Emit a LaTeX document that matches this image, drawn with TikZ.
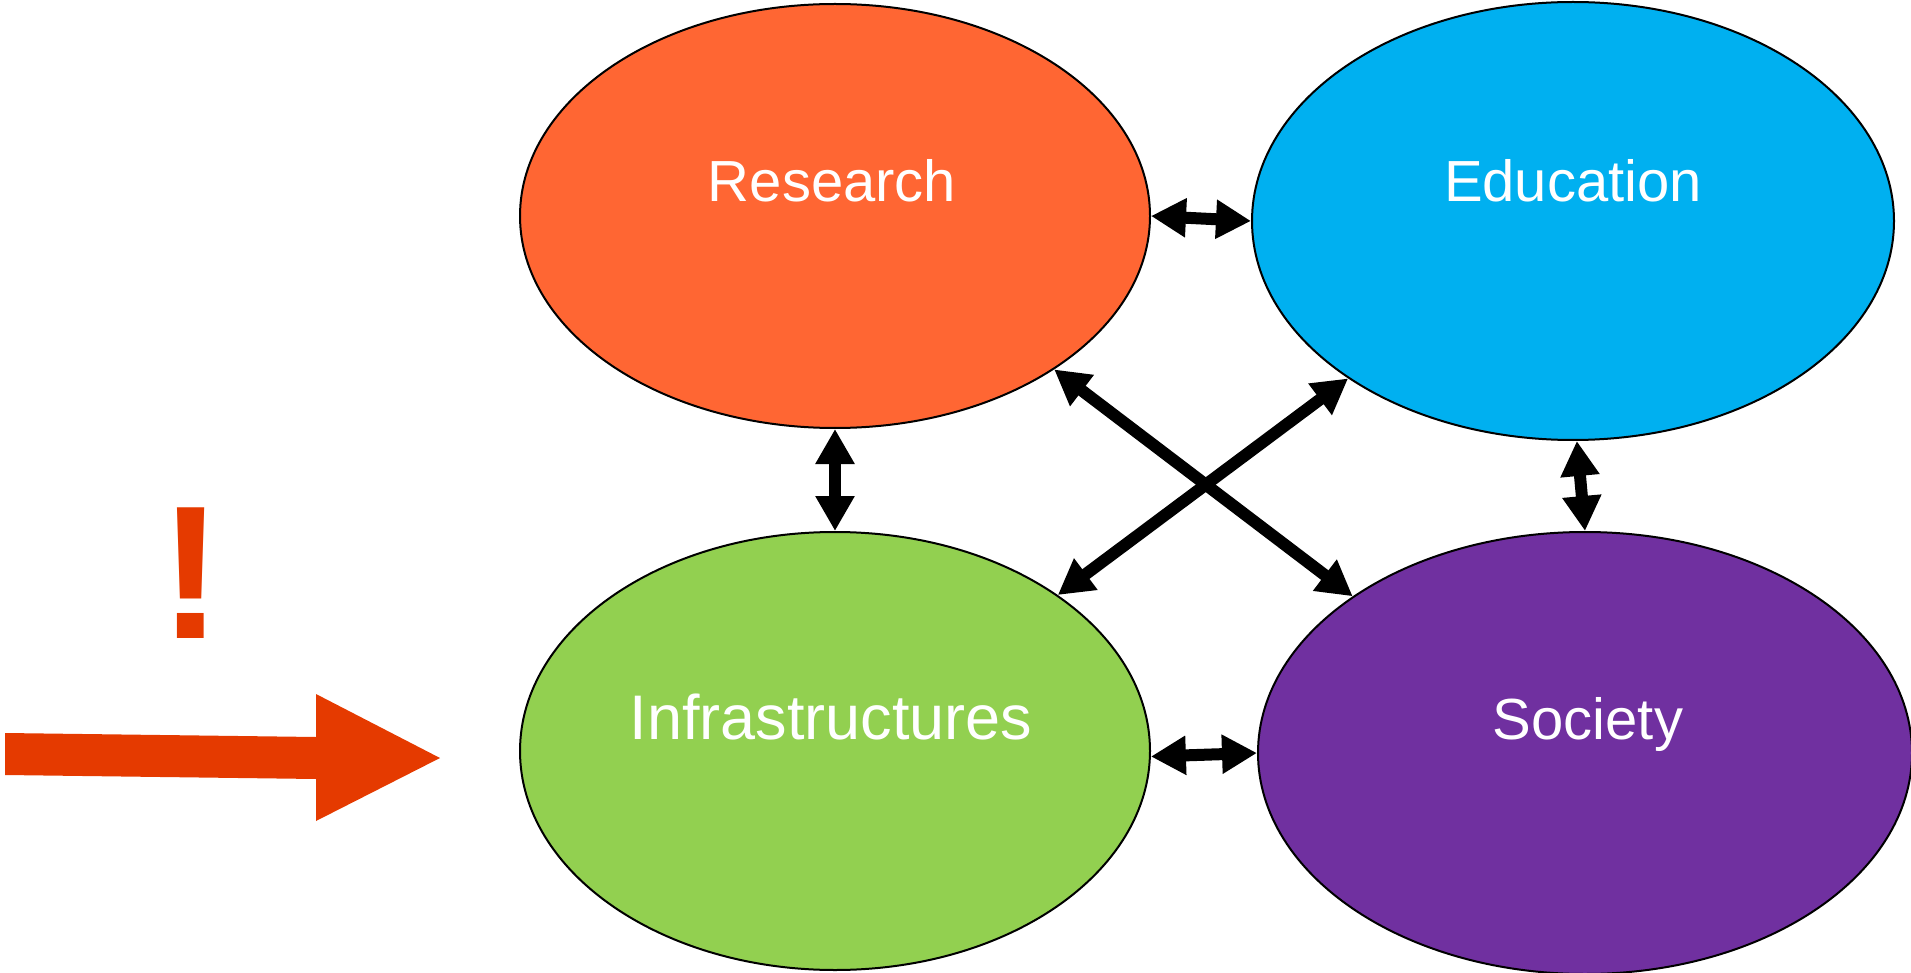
\documentclass[tikz,border=0pt]{standalone}
\usepackage{fontspec}
\setmainfont{Liberation Sans}
\usetikzlibrary{shapes.geometric,arrows.meta}
\definecolor{cres}{HTML}{FF6633}
\definecolor{cedu}{HTML}{00B0F0}
\definecolor{cinf}{HTML}{92D050}
\definecolor{csoc}{HTML}{7030A0}
\definecolor{cwarn}{HTML}{E53A00}
\tikzset{
  blob/.style={ellipse, draw=black, line width=2pt, inner sep=0pt},
  lbl/.style={text=white, anchor=base, inner sep=0pt, font=\fontsize{58}{70}\selectfont},
  link/.style={line width=12pt, {Triangle[length=35pt,width=37pt]}-{Triangle[length=35pt,width=37pt]}}
}
\begin{document}
\begin{tikzpicture}[x=1pt,y=-1pt]
\path[use as bounding box] (0,0) rectangle (1911,973);
\node[blob, fill=cres, minimum width=630pt, minimum height=424pt] (res) at (835,216) {};
\node[blob, fill=cedu, minimum width=642pt, minimum height=438pt] (edu) at (1573,221) {};
\node[blob, fill=cinf, minimum width=630pt, minimum height=438pt] (inf) at (835,751) {};
\node[blob, fill=csoc, minimum width=654pt, minimum height=442pt] (soc) at (1585,753) {};
\node[lbl] (tres) at (832,202) {Research};
\node[lbl] (tedu) at (1573,202) {Education};
\node[lbl, font=\fontsize{63}{75}\selectfont] (tinf) at (831,739) {Infrastructures};
\node[lbl] (tsoc) at (1588,739) {Society};
\draw[link] (res.east) -- (edu.west);
\draw[link] (res.south) -- (inf.north);
\draw[link] (edu.-89) -- (soc.north);
\draw[link] (inf.-1.3) -- (soc.west);
\draw[link] (res.-35) -- (soc.146);
\draw[link] (edu.215) -- (inf.35);
\fill[cwarn] (5,733) -- (316,737) -- (316,694) -- (440,758) -- (316,821) -- (316,779) -- (5,775) -- cycle;
\node[text=cwarn, anchor=base, inner sep=0pt, font=\fontsize{190}{200}\bfseries] (bang) at (191.5,638) {!};
\end{tikzpicture}
\end{document}
